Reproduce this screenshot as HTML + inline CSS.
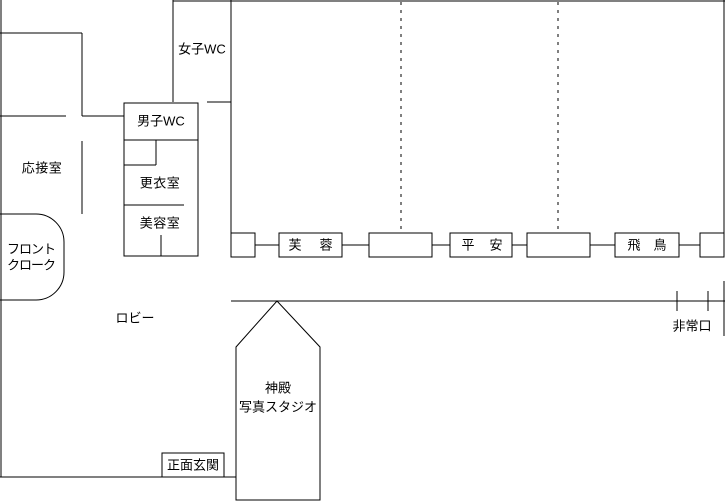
<!DOCTYPE html>
<html>
<head>
<meta charset="utf-8">
<style>
html,body{margin:0;padding:0;background:#fff;}
svg{display:block;}
text{font-family:"Liberation Sans","Noto Sans CJK JP",sans-serif;font-size:13px;fill:#000;}
</style>
</head>
<body>
<svg width="725" height="501" viewBox="0 0 725 501" xmlns="http://www.w3.org/2000/svg">
<g stroke="#000" stroke-width="1" fill="none">
  <!-- left wall & bottom -->
  <line x1="1" y1="0" x2="1" y2="477"/>
  <line x1="0" y1="477" x2="236" y2="477"/>
  <!-- top-left room -->
  <line x1="0" y1="33" x2="82" y2="33"/>
  <line x1="82" y1="33" x2="82" y2="116"/>
  <line x1="0" y1="116" x2="66" y2="116"/>
  <line x1="82" y1="116" x2="124" y2="116"/>
  <!-- reception wall -->
  <line x1="82" y1="141" x2="82" y2="214"/>
  <!-- front cloak -->
  <path d="M0,214 H36 A28,28 0 0 1 64,242 V272 A28,28 0 0 1 36,300 H0"/>
  <!-- men's WC block -->
  <rect x="124" y="103" width="74" height="153"/>
  <line x1="124" y1="140" x2="198" y2="140"/>
  <line x1="156" y1="140" x2="156" y2="165"/>
  <line x1="124" y1="165" x2="156" y2="165"/>
  <line x1="124" y1="205" x2="184" y2="205"/>
  <line x1="161" y1="235" x2="161" y2="256"/>
  <!-- women's WC -->
  <line x1="173" y1="0" x2="173" y2="102"/>
  <line x1="173" y1="1" x2="725" y2="1"/>
  <line x1="207" y1="102" x2="231" y2="102"/>
  <line x1="231" y1="0" x2="231" y2="257"/>
  <line x1="724" y1="0" x2="724" y2="257"/>
  <!-- dashed dividers -->
  <line x1="401" y1="2" x2="401" y2="233" stroke-dasharray="3 5"/>
  <line x1="558" y1="2" x2="558" y2="233" stroke-dasharray="3 5"/>
  <!-- row of boxes -->
  <rect x="231" y="233" width="24" height="24"/>
  <rect x="279" y="233" width="63" height="24"/>
  <rect x="369" y="233" width="63" height="24"/>
  <rect x="450" y="233" width="62" height="24"/>
  <rect x="527" y="233" width="63" height="24"/>
  <rect x="615" y="233" width="64" height="24"/>
  <rect x="700" y="233" width="24" height="24"/>
  <line x1="255" y1="245" x2="279" y2="245"/>
  <line x1="342" y1="245" x2="369" y2="245"/>
  <line x1="432" y1="245" x2="450" y2="245"/>
  <line x1="512" y1="245" x2="527" y2="245"/>
  <line x1="590" y1="245" x2="615" y2="245"/>
  <line x1="679" y1="245" x2="700" y2="245"/>
  <!-- lobby line -->
  <line x1="231" y1="301" x2="725" y2="301"/>
  <line x1="677" y1="291" x2="677" y2="311"/>
  <line x1="708" y1="291" x2="708" y2="311"/>
  <line x1="724" y1="281" x2="724" y2="336"/>
  <!-- shrine studio -->
  <polygon points="236,347 277,301 320,347 320,500 236,500" fill="#fff"/>
  <!-- main entrance -->
  <rect x="162" y="453" width="62" height="24" fill="#fff"/>
</g>
<g dominant-baseline="central" text-anchor="middle">
  <text x="202" y="49">女子WC</text>
  <text x="161" y="121">男子WC</text>
  <text x="42" y="168" letter-spacing="0.5">応接室</text>
  <text x="160" y="183" letter-spacing="0.5">更衣室</text>
  <text x="160" y="223" letter-spacing="0.5">美容室</text>
  <text x="31" y="249" letter-spacing="-1">フロント</text>
  <text x="31" y="265" letter-spacing="-1">クローク</text>
  <text x="135" y="318">ロビー</text>
  <text x="295" y="245">芙</text>
  <text x="326" y="245">蓉</text>
  <text x="468" y="245">平</text>
  <text x="496" y="245">安</text>
  <text x="634" y="245">飛</text>
  <text x="660" y="245">鳥</text>
  <text x="278" y="388">神殿</text>
  <text x="278" y="407">写真スタジオ</text>
  <text x="193" y="465">正面玄関</text>
  <text x="692" y="326">非常口</text>
</g>
</svg>
</body>
</html>
